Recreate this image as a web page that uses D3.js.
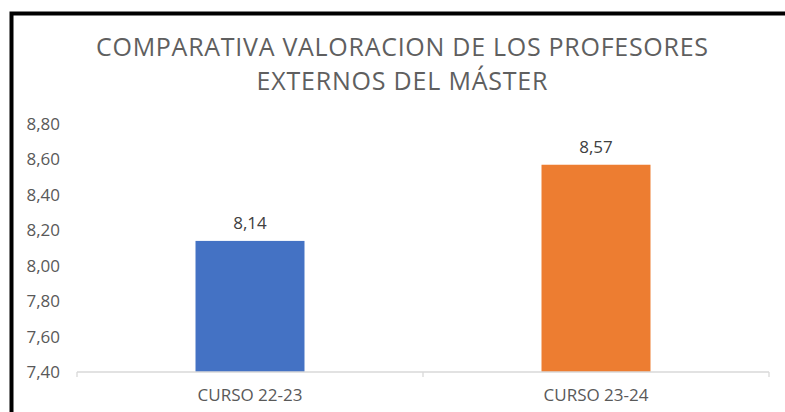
<!DOCTYPE html>
<html>
<head>
<meta charset="utf-8">
<script src="https://cdn.jsdelivr.net/npm/d3@7"></script>
<style>
  body { margin: 0; background: #fff; }
  text { font-family: "Open Sans", "Liberation Sans", sans-serif; }
</style>
</head>
<body>
<svg id="chart" width="785" height="412"></svg>
<script>
var cursos = ["CURSO 22-23", "CURSO 23-24"];
var valores = [8.14, 8.57];
var colores = ["#4472c4", "#ed7d31"];
var ticks_y = [7.4, 7.6, 7.8, 8.0, 8.2, 8.4, 8.6, 8.8];
var titulo = ["COMPARATIVA VALORACION DE LOS PROFESORES", "EXTERNOS DEL MÁSTER"];
var anchoTitulo = [612, 291];

var svg = d3.select("#chart");
var coma = function(v) { return d3.format(".2f")(v).replace(".", ","); };

// marco negro (solo izquierda y arriba, la imagen esta recortada)
svg.append("path")
  .attr("d", "M11.5,412 L11.5,13.5 L785,13.5")
  .style("fill", "none")
  .style("stroke", "#000")
  .style("stroke-width", 4);

// titulo
svg.selectAll(".titulo")
  .data(titulo)
  .enter()
  .append("text")
  .attr("class", "titulo")
  .attr("x", 402)
  .attr("y", function(d, i) { return 56 + i * 34; })
  .attr("text-anchor", "middle")
  .attr("textLength", function(d, i) { return anchoTitulo[i]; })
  .attr("lengthAdjust", "spacing")
  .style("font-size", "25px")
  .style("font-weight", 400)
  .style("fill", "#5f5f5f")
  .text(function(d) { return d; });

var x = d3.scaleBand().domain(cursos).range([77, 769]).paddingInner(0).paddingOuter(0);
var y = d3.scaleLinear().domain([7.4, 8.8]).range([372, 124]);

// eje y (solo etiquetas)
svg.selectAll(".ytick")
  .data(ticks_y)
  .enter()
  .append("text")
  .attr("class", "ytick")
  .attr("x", 60)
  .attr("y", function(d) { return y(d); })
  .attr("dy", "0.35em")
  .attr("text-anchor", "end")
  .style("font-size", "17px")
  .style("fill", "#595959")
  .text(coma);

// barras
var anchoBarra = x.bandwidth() * 0.315;
svg.selectAll(".barra")
  .data(valores)
  .enter()
  .append("rect")
  .attr("class", "barra")
  .attr("x", function(d, i) { return x(cursos[i]) + x.bandwidth() / 2 - anchoBarra / 2; })
  .attr("y", function(d) { return y(d); })
  .attr("width", anchoBarra)
  .attr("height", function(d) { return y(7.4) - y(d); })
  .style("fill", function(d, i) { return colores[i]; });

// etiquetas de datos
svg.selectAll(".valor")
  .data(valores)
  .enter()
  .append("text")
  .attr("class", "valor")
  .attr("x", function(d, i) { return x(cursos[i]) + x.bandwidth() / 2; })
  .attr("y", function(d) { return y(d) - 12; })
  .attr("text-anchor", "middle")
  .style("font-size", "17px")
  .style("fill", "#404040")
  .text(coma);

// eje x
var ejeX = svg.append("g")
  .attr("transform", "translate(0,372)")
  .call(d3.axisBottom(x).tickSize(0).tickPadding(17));
ejeX.select(".domain").remove();
ejeX.append("line")
  .attr("x1", 77).attr("x2", 769)
  .style("stroke", "#d9d9d9").style("stroke-width", 1.3);
ejeX.selectAll(".sep")
  .data([77, 423, 769])
  .enter()
  .append("line")
  .attr("x1", function(d) { return d; })
  .attr("x2", function(d) { return d; })
  .attr("y1", 0).attr("y2", 5)
  .style("stroke", "#d9d9d9").style("stroke-width", 1.3);
ejeX.selectAll(".tick text")
  .style("font-family", "\"Open Sans\", sans-serif")
  .style("font-size", "17px")
  .style("fill", "#595959");
</script>
</body>
</html>
